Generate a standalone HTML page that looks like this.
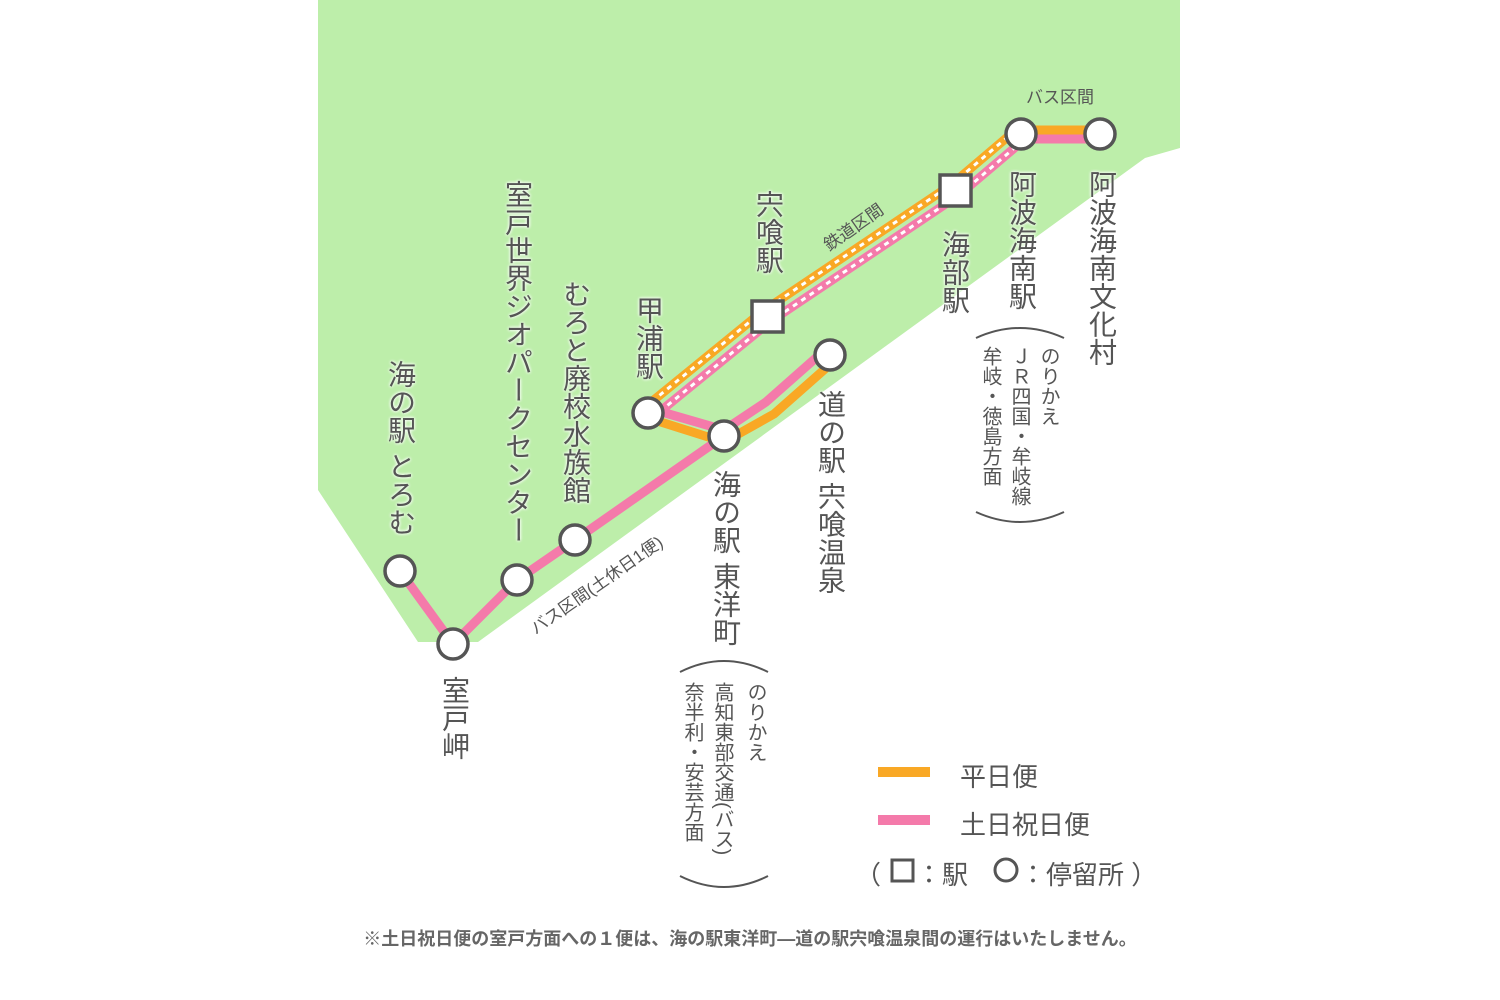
<!DOCTYPE html>
<html><head><meta charset="utf-8"><style>
html,body{margin:0;padding:0;background:#fff;}
#w{position:relative;width:1500px;height:1000px;overflow:hidden;font-family:"Liberation Sans","Noto Sans CJK JP",sans-serif;color:#555;}
.v{position:absolute;writing-mode:vertical-rl;font-size:28px;line-height:1;white-space:nowrap;transform:translateX(-50%);text-shadow:0 0 3px #fff,0 0 3px #fff;}
.s{position:absolute;font-size:26px;white-space:nowrap;}
.n{position:absolute;writing-mode:vertical-rl;font-size:20px;line-height:1;white-space:nowrap;transform:translateX(-50%);}
</style></head><body><div id="w">
<svg width="1500" height="1000" style="position:absolute;left:0;top:0">
<polygon points="318,0 1180,0 1180,148 1145,158 478,642 418,642 318,490" fill="#bdeeaa"/>
<g fill="none" stroke-linejoin="round">
<polyline points="644,408 763,311 951,185 1017,129" stroke="#f9a825" stroke-width="9"/>
<polyline points="652,418 771,321 959,195 1025,139" stroke="#f47aaa" stroke-width="9"/>
<polyline points="644,408 763,311 951,185 1017,129" stroke="#fff" stroke-width="3" stroke-dasharray="5 5"/>
<polyline points="652,418 771,321 959,195 1025,139" stroke="#fff" stroke-width="3" stroke-dasharray="5 5"/>
<line x1="1021" y1="130" x2="1100" y2="130" stroke="#f9a825" stroke-width="9"/>
<line x1="1021" y1="139" x2="1100" y2="139" stroke="#f47aaa" stroke-width="9"/>
<polyline points="648,418 724,442 774,414 834,361" stroke="#f9a825" stroke-width="9"/>
<polyline points="648,408 724,430 766,402 826,349" stroke="#f47aaa" stroke-width="9"/>
<polyline points="400,571 453,644 517,580 575,540 724,436" stroke="#f47aaa" stroke-width="9"/>
</g>
<g fill="#fff" stroke="#555" stroke-width="3.5">
<circle cx="400" cy="571" r="15"/><circle cx="453" cy="644" r="15"/><circle cx="517" cy="580" r="15"/>
<circle cx="575" cy="540" r="15"/><circle cx="648" cy="413" r="15"/><circle cx="724" cy="436" r="15"/>
<circle cx="830" cy="355" r="15"/><circle cx="1021" cy="134" r="15"/><circle cx="1100" cy="134" r="15"/>
<rect x="752" y="301" width="31" height="31"/><rect x="940" y="175" width="31" height="31"/>
</g>
<g fill="none" stroke="#555" stroke-width="2">
<path d="M680,672 Q724,650 768,672"/><path d="M680,876 Q724,898 768,876"/>
<path d="M976,338 Q1020,318 1064,338"/><path d="M976,512 Q1020,532 1064,512"/>
</g>
<rect x="878" y="767" width="52" height="10" fill="#f9a825"/>
<rect x="878" y="815" width="52" height="10" fill="#f47aaa"/>
<g fill="none" stroke="#555" stroke-width="3">
<rect x="892" y="860" width="21" height="21"/>
<circle cx="1006" cy="870" r="11"/>
</g>
<text x="857" y="232" transform="rotate(-35 857 232)" font-size="17" fill="#555" text-anchor="middle" font-family="Liberation Sans,Noto Sans CJK JP,sans-serif">鉄道区間</text>
<text x="600" y="590" transform="rotate(-35 600 590)" font-size="17" fill="#555" text-anchor="middle" font-family="Liberation Sans,Noto Sans CJK JP,sans-serif">バス区間(土休日1便)</text>
<text x="1060" y="103" font-size="17" fill="#555" text-anchor="middle" font-family="Liberation Sans,Noto Sans CJK JP,sans-serif">バス区間</text>
</svg>
<div class="v" style="left:400px;top:360px">海の駅 とろむ</div>
<div class="v" style="left:517px;top:180px">室戸世界ジオパークセンター</div>
<div class="v" style="left:575px;top:280px">むろと廃校水族館</div>
<div class="v" style="left:648px;top:296px">甲浦駅</div>
<div class="v" style="left:768px;top:190px">宍喰駅</div>
<div class="v" style="left:954px;top:230px">海部駅</div>
<div class="v" style="left:1021px;top:170px">阿波海南駅</div>
<div class="v" style="left:1101px;top:170px">阿波海南文化村</div>
<div class="v" style="left:830px;top:390px">道の駅 宍喰温泉</div>
<div class="v" style="left:725px;top:470px">海の駅 東洋町</div>
<div class="v" style="left:454px;top:676px">室戸岬</div>
<div class="n" style="left:755px;top:682px">のりかえ</div>
<div class="n" style="left:722px;top:682px">高知東部交通(バス)</div>
<div class="n" style="left:692px;top:682px">奈半利・安芸方面</div>
<div class="n" style="left:1048px;top:346px">のりかえ</div>
<div class="n" style="left:1019px;top:346px">ＪＲ四国・牟岐線</div>
<div class="n" style="left:990px;top:346px">牟岐・徳島方面</div>
<div class="s" style="left:960px;top:757px">平日便</div>
<div class="s" style="left:960px;top:805px">土日祝日便</div>
<div class="s" style="left:855px;top:855px">（</div>
<div class="s" style="left:916px;top:855px">：駅</div>
<div class="s" style="left:1020px;top:855px">：停留所 ）</div>
<div style="position:absolute;left:0;width:1500px;top:925px;text-align:center;font-size:18px;font-weight:bold;color:#666">※土日祝日便の室戸方面への１便は、海の駅東洋町―道の駅宍喰温泉間の運行はいたしません。</div>
</div></body></html>
